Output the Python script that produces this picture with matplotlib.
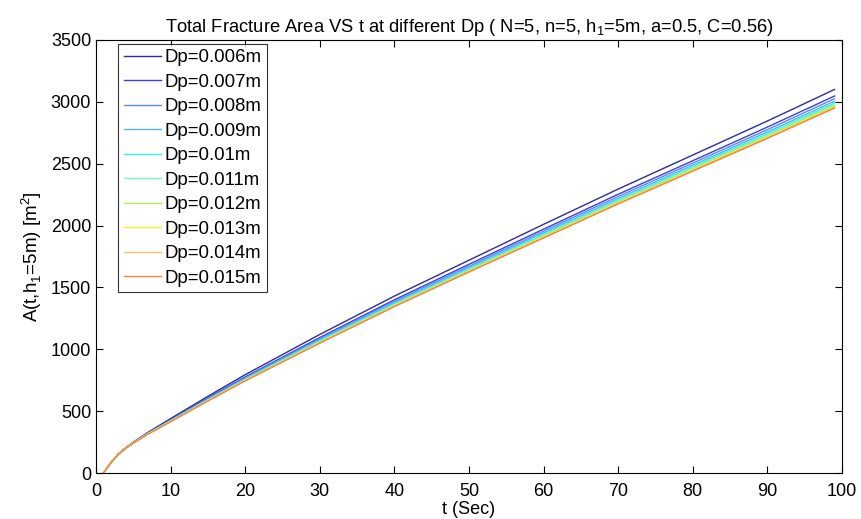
import matplotlib.pyplot as plt

plt.rcParams['font.family'] = ['Liberation Sans', 'DejaVu Sans']
plt.rcParams['mathtext.fontset'] = 'custom'
plt.rcParams['mathtext.rm'] = 'Liberation Sans'

t = [1, 2, 3, 4, 5, 7, 10, 15, 20, 30, 40, 50, 60, 70, 80, 90, 99]

dp_labels = ['Dp=0.006m', 'Dp=0.007m', 'Dp=0.008m', 'Dp=0.009m', 'Dp=0.01m',
             'Dp=0.011m', 'Dp=0.012m', 'Dp=0.013m', 'Dp=0.014m', 'Dp=0.015m']

area_006 = [0, 85, 155, 205, 250, 330, 440, 620, 795, 1120, 1430, 1720, 2010, 2295, 2570, 2845, 3100]
area_007 = [0, 84, 154, 203, 247, 325, 431, 607, 777, 1095, 1400, 1687, 1971, 2253, 2524, 2796, 3047]
area_008 = [0, 84, 153, 202, 246, 323, 427, 601, 770, 1085, 1387, 1672, 1955, 2235, 2505, 2775, 3025]
area_009 = [0, 84, 152, 201, 245, 321, 424, 596, 763, 1076, 1376, 1660, 1941, 2219, 2488, 2757, 3005]
area_010 = [0, 84, 152, 201, 244, 320, 422, 592, 758, 1069, 1368, 1651, 1930, 2207, 2475, 2743, 2990]
area_011 = [0, 83, 152, 200, 244, 319, 420, 589, 754, 1063, 1361, 1643, 1921, 2198, 2465, 2732, 2978]
area_012 = [0, 83, 151, 200, 243, 318, 418, 587, 751, 1058, 1355, 1636, 1913, 2189, 2456, 2722, 2968]
area_013 = [0, 83, 151, 199, 243, 317, 417, 585, 748, 1055, 1351, 1632, 1908, 2183, 2449, 2715, 2960]
area_014 = [0, 83, 151, 199, 242, 316, 416, 583, 746, 1052, 1348, 1628, 1903, 2179, 2444, 2709, 2954]
area_015 = [0, 83, 151, 199, 242, 316, 415, 582, 745, 1050, 1345, 1625, 1900, 2175, 2440, 2705, 2950]

areas = [area_006, area_007, area_008, area_009, area_010,
         area_011, area_012, area_013, area_014, area_015]

colors = ['#2c2c9c', '#3c3cf0', '#5a8cf2', '#55b4f2', '#33f2f2',
          '#80f2c4', '#aef046', '#f4f420', '#f8c272', '#fa8040']

fig = plt.figure(figsize=(8.62, 5.19), dpi=100)
ax = fig.add_axes([0.1114, 0.0886, 0.8654, 0.8344])

for a, c, lab in zip(areas, colors, dp_labels):
    ax.plot(t, a, color=c, lw=1.0, label=lab)

ax.set_xlim(0, 100)
ax.set_ylim(0, 3500)
ax.set_xticks(range(0, 101, 10))
ax.set_yticks(range(0, 3501, 500))
ax.tick_params(direction='in', top=True, right=True, labelsize=13, length=5)
ax.tick_params(axis='x', pad=7)
for s in ax.spines.values():
    s.set_linewidth(0.8)

ax.set_xlabel('t (Sec)', fontsize=13, labelpad=1)
ax.set_ylabel('A(t,h$_1$=5m) [m$^2$]', fontsize=13.5, labelpad=5)
ax.set_title('Total Fracture Area VS t at different Dp ( N=5, n=5, h$_1$=5m, a=0.5, C=0.56)',
             fontsize=13.2, pad=6)

leg = ax.legend(loc='upper left', bbox_to_anchor=(0.0295, 0.991), borderaxespad=0,
                fontsize=13.4, fancybox=False, edgecolor='black',
                handlelength=2.0, handletextpad=0.2, labelspacing=0.4, borderpad=0.3)
leg.get_frame().set_linewidth(0.8)

fig.savefig('out.png', dpi=100)
